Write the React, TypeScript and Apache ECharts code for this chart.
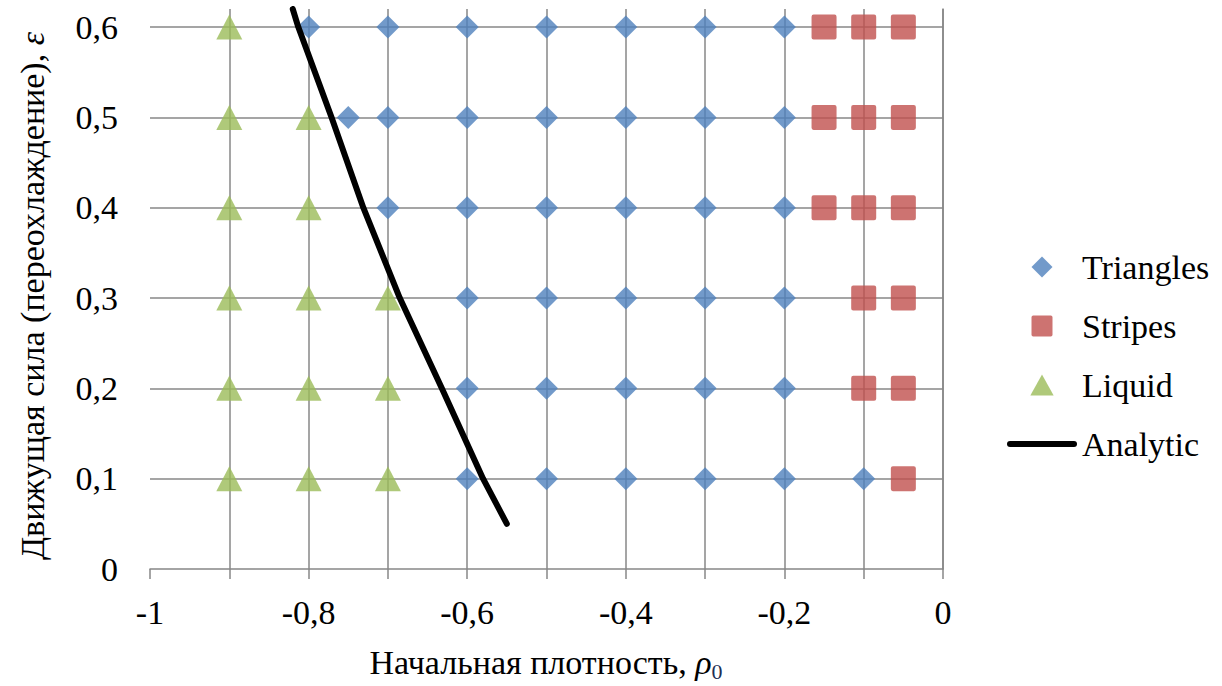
import React, { useEffect, useRef } from "react";
import * as echarts from "echarts";

const triangles: [number, number][] = [
  [-0.8, 0.6], [-0.7, 0.6], [-0.6, 0.6], [-0.5, 0.6], [-0.4, 0.6], [-0.3, 0.6], [-0.2, 0.6],
  [-0.75, 0.5], [-0.7, 0.5], [-0.6, 0.5], [-0.5, 0.5], [-0.4, 0.5], [-0.3, 0.5], [-0.2, 0.5],
  [-0.7, 0.4], [-0.6, 0.4], [-0.5, 0.4], [-0.4, 0.4], [-0.3, 0.4], [-0.2, 0.4],
  [-0.6, 0.3], [-0.5, 0.3], [-0.4, 0.3], [-0.3, 0.3], [-0.2, 0.3],
  [-0.6, 0.2], [-0.5, 0.2], [-0.4, 0.2], [-0.3, 0.2], [-0.2, 0.2],
  [-0.6, 0.1], [-0.5, 0.1], [-0.4, 0.1], [-0.3, 0.1], [-0.2, 0.1], [-0.1, 0.1],
];

const stripes: [number, number][] = [
  [-0.15, 0.6], [-0.1, 0.6], [-0.05, 0.6],
  [-0.15, 0.5], [-0.1, 0.5], [-0.05, 0.5],
  [-0.15, 0.4], [-0.1, 0.4], [-0.05, 0.4],
  [-0.1, 0.3], [-0.05, 0.3],
  [-0.1, 0.2], [-0.05, 0.2],
  [-0.05, 0.1],
];

const liquid: [number, number][] = [
  [-0.9, 0.6],
  [-0.9, 0.5], [-0.8, 0.5],
  [-0.9, 0.4], [-0.8, 0.4],
  [-0.9, 0.3], [-0.8, 0.3], [-0.7, 0.3],
  [-0.9, 0.2], [-0.8, 0.2], [-0.7, 0.2],
  [-0.9, 0.1], [-0.8, 0.1], [-0.7, 0.1],
];

const analytic: [number, number][] = [
  [-0.55, 0.05], [-0.58, 0.1], [-0.632, 0.2], [-0.685, 0.3],
  [-0.731, 0.4], [-0.771, 0.5], [-0.813, 0.6], [-0.82, 0.62],
];

const seriesNames = ["Triangles", "Stripes", "Liquid", "Analytic"];
const xTitleParts = ["Начальная плотность, ", "ρ", "0"];
const yTitleParts = ["Движущая сила (переохлаждение), ", "ε"];

const FONT = "serif";
const GRID = "#878787";

const squarePath =
  "path://M2,0 H22 A2,2 0 0 1 24,2 V22 A2,2 0 0 1 22,24 H2 A2,2 0 0 1 0,22 V2 A2,2 0 0 1 2,0 Z";
const diamondPath = "path://M10,0 L20,10 L10,20 L0,10 Z";
const trianglePath = "path://M10,0 L20,18 L0,18 Z";
const linePath = "path://M3,0 H67 A3,3 0 0 1 67,6 H3 A3,3 0 0 1 3,0 Z";

function fmt(v: number): string {
  const r = Math.round(v * 10) / 10;
  return String(r).replace(".", ",");
}

function measure(text: string, size: number, italic: boolean): number {
  const c = document.createElement("canvas").getContext("2d");
  if (!c) return text.length * size * 0.5;
  c.font = (italic ? "italic " : "") + size + "px " + FONT;
  return c.measureText(text).width;
}

export default function App() {
  const ref = useRef<HTMLDivElement>(null);
  useEffect(() => {
    document.body.style.margin = "0";
    if (!ref.current) return;
    const chart = echarts.init(ref.current, null, { renderer: "svg" });

    // x-axis title pieces
    const xw0 = measure(xTitleParts[0], 34, false);
    const xw1 = measure(xTitleParts[1], 34, true);
    const xw2 = measure(xTitleParts[2], 22, false);
    const xStart = 546 - (xw0 + xw1 + xw2) / 2;
    // y-axis title pieces
    const yw0 = measure(yTitleParts[0], 34, false);
    const yw1 = measure(yTitleParts[1], 34, true);
    const yStart = -(yw0 + yw1) / 2;

    chart.setOption({
      animation: false,
      grid: { left: 150, right: 279, top: 9, bottom: 117 },
      graphic: [
        {
          type: "group",
          x: xStart,
          y: 662,
          children: [
            { type: "text", x: 0, y: 0, style: { text: xTitleParts[0], fontFamily: FONT, fontSize: 34, fill: "#000", verticalAlign: "middle", align: "left" } },
            { type: "text", x: xw0, y: 0, style: { text: xTitleParts[1], fontFamily: FONT, fontSize: 34, fontStyle: "italic", fill: "#000", verticalAlign: "middle", align: "left" } },
            { type: "text", x: xw0 + xw1, y: 9, style: { text: xTitleParts[2], fontFamily: FONT, fontSize: 22, fill: "#1f2f55", verticalAlign: "middle", align: "left" } },
          ],
        },
        {
          type: "group",
          x: 32,
          y: 296,
          rotation: Math.PI / 2,
          children: [
            { type: "text", x: yStart, y: 0, style: { text: yTitleParts[0], fontFamily: FONT, fontSize: 34, fill: "#000", verticalAlign: "middle", align: "left" } },
            { type: "text", x: yStart + yw0, y: 0, style: { text: yTitleParts[1], fontFamily: FONT, fontSize: 34, fontStyle: "italic", fill: "#000", verticalAlign: "middle", align: "left" } },
          ],
        },
      ],
      legend: {
        orient: "vertical",
        left: 1002,
        top: 245,
        itemWidth: 70,
        itemHeight: 21,
        itemGap: 25,
        textStyle: { fontFamily: FONT, fontSize: 34, color: "#000" },
        data: [
          { name: seriesNames[0], icon: diamondPath },
          { name: seriesNames[1], icon: squarePath },
          { name: seriesNames[2], icon: trianglePath },
          { name: seriesNames[3], icon: linePath, itemStyle: { color: "#000" } },
        ],
      },
      xAxis: {
        type: "value",
        min: -1,
        max: 0,
        interval: 0.1,
        axisLine: { show: true, lineStyle: { color: GRID, width: 1.5 } },
        axisTick: { show: true, length: 10, lineStyle: { color: GRID, width: 1.5 } },
        axisLabel: {
          margin: 26,
          fontFamily: FONT,
          fontSize: 34,
          color: "#000",
          formatter: (v: number) => (Math.round(v * 10) % 2 === 0 ? fmt(v) : ""),
        },
        splitLine: {
          show: true,
          showMinLine: false,
          showMaxLine: true,
          lineStyle: { color: GRID, width: 1.5 },
        },
      },
      yAxis: {
        type: "value",
        min: 0,
        max: 0.62,
        interval: 0.1,
        axisLine: { show: true, lineStyle: { color: GRID, width: 1.5 } },
        axisTick: { show: false },
        axisLabel: {
          margin: 32,
          fontFamily: FONT,
          fontSize: 34,
          color: "#000",
          showMaxLabel: false,
          formatter: (v: number) =>
            Math.abs(v * 10 - Math.round(v * 10)) > 1e-6 ? "" : fmt(v),
        },
        splitLine: {
          show: true,
          showMinLine: false,
          showMaxLine: false,
          lineStyle: { color: GRID, width: 1.5 },
        },
      },
      series: [
        {
          name: seriesNames[0],
          type: "scatter",
          data: triangles,
          symbol: "diamond",
          symbolSize: [23, 23],
          itemStyle: { color: "#4f81bd" },
          z: 3,
        },
        {
          name: seriesNames[1],
          type: "scatter",
          data: stripes,
          symbol: squarePath,
          symbolSize: [25, 25],
          itemStyle: { color: "#c0504d" },
          z: 3,
        },
        {
          name: seriesNames[2],
          type: "scatter",
          data: liquid,
          symbol: "triangle",
          symbolSize: [26, 25],
          itemStyle: { color: "#9bbb59" },
          z: 3,
        },
        {
          name: seriesNames[3],
          type: "line",
          data: analytic,
          symbol: "none",
          showSymbol: false,
          smooth: false,
          clip: true,
          lineStyle: { color: "#000", width: 6, cap: "round", join: "round" },
          itemStyle: { color: "#000" },
          z: 5,
        },
      ],
    });
    return () => chart.dispose();
  }, []);
  return <div ref={ref} style={{ width: 1222, height: 686 }} />;
}
